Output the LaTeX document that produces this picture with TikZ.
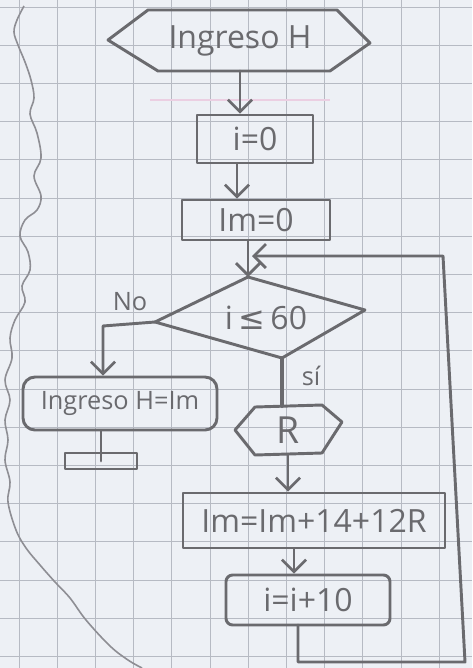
\documentclass[tikz,border=0pt]{standalone}
\usepackage{fontspec}
\setmainfont{Open Sans}
\newfontfamily\symfont{DejaVu Sans}
\usetikzlibrary{arrows.meta,calc}
\definecolor{paper}{HTML}{EDF0F5}
\definecolor{gridc}{HTML}{B6BAC3}
\definecolor{pencil}{HTML}{6A6A6E}
\definecolor{softpencil}{HTML}{8E8E94}
\definecolor{pinkline}{HTML}{EBCFE2}
\begin{document}
\begin{tikzpicture}[x=0.75pt,y=-0.75pt,
  pen/.style={draw=pencil, line width=2.2pt, line join=round, line cap=round},
  flow/.style={pen, -{Straight Barb[length=9pt,width=18pt,line width=2pt]}},
  txt/.style={text=pencil, inner sep=0pt, font=\fontsize{24}{26}\selectfont},
  small/.style={text=pencil, inner sep=0pt, font=\fontsize{19}{21}\selectfont},
  box/.style={pen, rectangle, inner sep=0pt, text=pencil, font=\fontsize{24}{26}\selectfont},
  gridline/.style={draw=gridc, line width=0.5pt}]

% sheet of squared paper
\fill[paper] (0,0) rectangle (472,668);
\useasboundingbox (0,0) rectangle (472,668);
\foreach \k in {0,...,12} \draw[gridline] (19+38.2*\k,0) -- (19+38.2*\k,668);
\foreach \k in {0,...,17} \draw[gridline] (0,7+38.2*\k) -- (472,7+38.2*\k);
\draw[pinkline, line width=1.5pt] (150,100) -- (330,100);

% torn edge of the sheet
\draw[softpencil, line width=1.2pt] plot[smooth, tension=0.6] coordinates {
  (24,6) (17,20) (14,32) (18,45) (25,62) (31,80) (34,98) (30,114) (37,133)
  (41,158) (34,176) (41,196) (37,210) (25,220) (20,236) (28,252) (30,270)
  (22,286) (25,302) (15,320) (10,338) (12,358) (5,380) (10,400) (5,420)
  (8,440) (5,460) (10,482) (8,502) (16,530) (26,548) (40,565) (55,582)
  (70,598) (86,620) (110,646) (128,660) (142,668)};

% input: Ingreso H
\draw[pen] (108,40) -- (148,10) -- (337,10) -- (370,43) -- (330,71) -- (158,71) -- cycle;
\node[txt] (inH) at (240,41) {Ingreso H};
\coordinate (inB) at (240,71);

% initialisations
\node[box, minimum width=87pt, minimum height=36pt] (i0) at (255,139) {i=0};
\node[box, minimum width=111pt, minimum height=30pt] (im0) at (256,220) {Im=0};

% decision
\coordinate (dT) at (248,277);
\coordinate (dR) at (365,310);
\coordinate (dB) at (282,358);
\coordinate (dL) at (155,322);
\draw[pen] (dT) -- (dR) -- (dB) -- (dL) -- cycle;
\node[txt] (cond) at (266,318) {i\,{\symfont ≤}\,60};
\node[small] (no) at (130,302) {No};
\node[small] (si) at (311,376) {sí};

% false branch: output and end
\node[box, rounded corners=9pt, minimum width=145.5pt, minimum height=39.75pt,
      font=\fontsize{19}{21}\selectfont] (out) at (120,403.5) {Ingreso H=Im};
\node[box, line width=1.8pt, minimum width=54pt, minimum height=12pt] (stop) at (101,461) {};
\coordinate (noC) at (103,326);

% true branch: read R
\coordinate (R) at (288,430);
\draw[pen] (235,430) -- (255,407) -- (322,405) -- (342,422) -- (322,453) -- (255,455) -- cycle;
\node[txt, font=\fontsize{28}{30}\selectfont] (rR) at (R) {R};
\coordinate (Rt) at (282,406);
\coordinate (Rb) at (288,454);

% accumulation and increment
\node[box, minimum width=196.5pt, minimum height=41.25pt] (acc) at (314,520.5) {Im=Im+14+12R};
\node[box, rounded corners=5pt, minimum width=123pt, minimum height=37.5pt] (inc) at (308,600) {i=i+10};

% loop path corners
\coordinate (incB) at (298,625);
\coordinate (l1) at (298,662);
\coordinate (l2) at (465,662);
\coordinate (l3) at (443,256);
\coordinate (merge) at (252,256);

% connectors
\draw[flow] (inB) -- (inB |- i0.north);
\draw[flow] ([xshift=-13.5pt]i0.south) -- ([xshift=-13.5pt]i0.south |- im0.north);
\draw[flow] ([xshift=-6pt]im0.south) -- (dT);
\draw[flow] (incB) -- (l1) -- (l2) -- (l3) -- (merge);
\draw[flow] (dL) -- (noC) -- (noC |- out.north);
\draw[pen] (out.south -| stop) -- (stop.center);
\draw[pen, line width=3pt] (dB) -- (Rt);
\draw[flow] (Rb) -- (Rb |- acc.north);
\draw[flow] ([xshift=-15pt]acc.south) -- ([xshift=-15pt]acc.south |- inc.north);
\end{tikzpicture}
\end{document}
